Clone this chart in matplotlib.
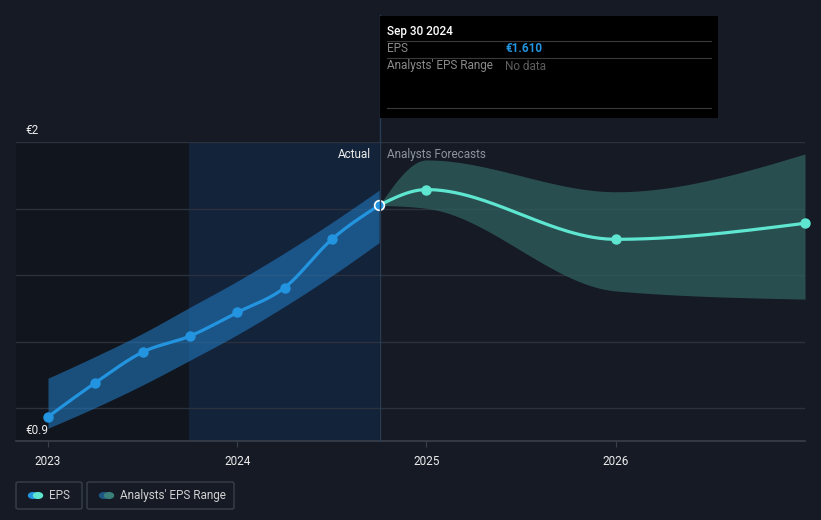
import numpy as np
import matplotlib
matplotlib.use('Agg')
import matplotlib.pyplot as plt
from matplotlib.patches import Rectangle, FancyBboxPatch, Circle

###############################################################################
# data (x in decimal years, values in EUR):

actual_x = [2023.0, 2023.25, 2023.5, 2023.75, 2024.0, 2024.25, 2024.5, 2024.75]
actual_eps = [0.989, 1.114, 1.227, 1.286, 1.373, 1.464, 1.642, 1.767]
actual_hi = [1.131, 1.211, 1.296, 1.392, 1.488, 1.592, 1.704, 1.823]
actual_lo = [0.947, 1.023, 1.106, 1.197, 1.291, 1.395, 1.508, 1.630]

fc_x = [2024.75, 2025.0, 2026.0, 2027.0]
fc_eps = [1.767, 1.825, 1.642, 1.701]
fc_hi = [1.767, 1.934, 1.817, 1.956]
fc_lo = [1.767, 1.756, 1.452, 1.422]

grid_vals = [2.0, 1.755, 1.51, 1.265, 1.02]
year_ticks = [2023, 2024, 2025, 2026]
y_labels = ['€2', '€0.9']

tooltip_date = 'Sep 30 2024'
tooltip_eps = '€1.610'

###############################################################################
# helpers:

def monotone(x, y, n=60):
    # monotone cubic (Fritsch-Carlson, like d3 monotoneX)
    x = np.asarray(x, float); y = np.asarray(y, float)
    h = np.diff(x); d = np.diff(y) / h
    m = np.zeros_like(y)
    for i in range(1, len(y) - 1):
        if d[i-1] * d[i] <= 0:
            m[i] = 0.
        else:
            p = (d[i-1] * h[i] + d[i] * h[i-1]) / (h[i-1] + h[i])
            m[i] = (np.sign(d[i-1]) + np.sign(d[i])) * min(abs(d[i-1]), abs(d[i]), 0.5 * abs(p))
    m[0] = (3 * d[0] - m[1]) / 2 if len(y) > 2 else d[0]
    m[-1] = (3 * d[-1] - m[-2]) / 2 if len(y) > 2 else d[-1]
    xs, ys = [], []
    for i in range(len(h)):
        t = np.linspace(0, 1, n)
        h00 = 2*t**3 - 3*t**2 + 1; h10 = t**3 - 2*t**2 + t
        h01 = -2*t**3 + 3*t**2; h11 = t**3 - t**2
        xs.append(x[i] + t * h[i])
        ys.append(h00*y[i] + h10*h[i]*m[i] + h01*y[i+1] + h11*h[i]*m[i+1])
    return np.concatenate(xs), np.concatenate(ys)

###############################################################################
# plot:

W, H = 821, 520
bg = '#151a25'
blue = '#2394e0'
teal = '#5ee6d0'
grid_c = '#2c323d'
font = 'Roboto'

fig = plt.figure(figsize=(W/100, H/100), dpi=100)
fig.patch.set_facecolor(bg)

x0, x1 = 16, 805
y_top, y_bot = 142, 441
ax = fig.add_axes([x0/W, 1 - y_bot/H, (x1 - x0)/W, (y_bot - y_top)/H])
ax.set_facecolor(bg)
xmin = 2023 - (48 - x0) / 189.3
ax.set_xlim(xmin, 2027.0)
ax.set_ylim(0.9, 2.0)
for s in ax.spines.values():
    s.set_visible(False)

# background regions:
ax.axvspan(xmin, 2023.745, color='#11151d', lw=0, zorder=0)
ax.axvspan(2023.745, 2024.75, color='#13233a', lw=0, zorder=0)

# grid:
for g in grid_vals:
    ax.axhline(g, color=grid_c, lw=1, zorder=1)
ax.axhline(0.9, color='#3a404b', lw=1.2, zorder=1, clip_on=False)

# actual band + line:
bx, bh = monotone(actual_x, actual_hi)
_, bl = monotone(actual_x, actual_lo)
ax.fill_between(bx, bl, bh, color='#2276bb', alpha=0.6, lw=0, zorder=2)
lx, ly = monotone(actual_x, actual_eps)
ax.plot(lx, ly, color=blue, lw=2.3, zorder=4, solid_capstyle='round')
ax.plot(actual_x[:-1], actual_eps[:-1], 'o', color=blue, ms=6.5, zorder=5)

# forecast band + line:
fx, fh = monotone(fc_x, fc_hi)
_, fl = monotone(fc_x, fc_lo)
ax.fill_between(fx, fl, fh, color='#30605f', alpha=0.75, lw=0, zorder=2)
flx, fly = monotone(fc_x, fc_eps)
ax.plot(flx, fly, color=teal, lw=2.3, zorder=4)
ax.plot(fc_x[1:], fc_eps[1:], 'o', color=teal, ms=6.5, zorder=5, clip_on=False)
ax.plot(actual_x[-1], actual_eps[-1], 'o', color=blue, ms=7, mec='white', mew=1.2, zorder=6)

# ticks:
ax.set_xticks(year_ticks)
ax.set_xticklabels([str(t) for t in year_ticks], fontsize=8.5, color='#ececec', family=font)
ax.tick_params(axis='x', length=4, color='#3a404b', pad=6)
ax.set_yticks([])

# y labels:
fig.text(25/W, 1 - 130/H, y_labels[0], fontsize=8.5, color='#ececec', family=font, va='center')
fig.text(25/W, 1 - 430/H, y_labels[1], fontsize=8.5, color='#ececec', family=font, va='center')

# actual/forecast labels:
fig.text(371/W, 1 - 154/H, 'Actual', fontsize=8.5, color='#ececec', family=font, ha='right', va='center')
fig.text(387/W, 1 - 154/H, 'Analysts Forecasts', fontsize=8.5, color='#8e949c', family=font, ha='left', va='center')

# tooltip:
fig.add_artist(plt.Line2D([379.5/W, 379.5/W], [1 - 441/H, 1 - 15/H], color='#263d57', lw=1, zorder=3))
fig.patches.append(Rectangle((380/W, 1 - 118/H), 338/W, 102/H, transform=fig.transFigure,
                             facecolor='black', edgecolor='none', zorder=4))
for yy in [41, 58, 108]:
    fig.add_artist(plt.Line2D([387/W, 711/W], [1 - yy/H, 1 - yy/H], color='#3a3a3a', lw=0.8, zorder=5))
fig.text(387/W, 1 - 31/H, tooltip_date, fontsize=8.5, color='white', family=font, weight='medium', va='center', zorder=6)
fig.text(387/W, 1 - 49/H, 'EPS', fontsize=8.5, color='#8a8a8a', family=font, va='center', zorder=6)
fig.text(505/W, 1 - 49/H, tooltip_eps, fontsize=8.5, color=blue, family=font, weight='bold', va='center', zorder=6)
fig.text(387/W, 1 - 66/H, "Analysts' EPS Range", fontsize=8.5, color='#8a8a8a', family=font, va='center', zorder=6)
fig.text(505/W, 1 - 66/H, 'No data', fontsize=8.5, color='#5e5e5e', family=font, va='center', zorder=6)

# legend:
def legend_box(xa, xb, c1, c2, label):
    fig.patches.append(FancyBboxPatch((xa/W, 1 - 509/H), (xb - xa)/W, 27/H, transform=fig.transFigure,
                                      boxstyle='round,pad=0,rounding_size=0.003',
                                      facecolor='none', edgecolor='#3a404b', lw=1))
    r = 4.5
    fig.patches.append(Circle(((xa + 17)/W, 1 - 495.5/H), r/W, transform=fig.transFigure, color=c1, zorder=3))
    fig.patches.append(Circle(((xa + 22)/W, 1 - 495.5/H), r/W, transform=fig.transFigure, color=c2, zorder=4))
    fig.text((xa + 33)/W, 1 - 495.5/H, label, fontsize=8.5, color='#d0d0d0', family=font, va='center')

legend_box(16, 82, blue, teal, 'EPS')
legend_box(87, 234, '#1d5683', '#3a7f7a', "Analysts' EPS Range")

fig.savefig('out.png', dpi=100, facecolor=bg)
